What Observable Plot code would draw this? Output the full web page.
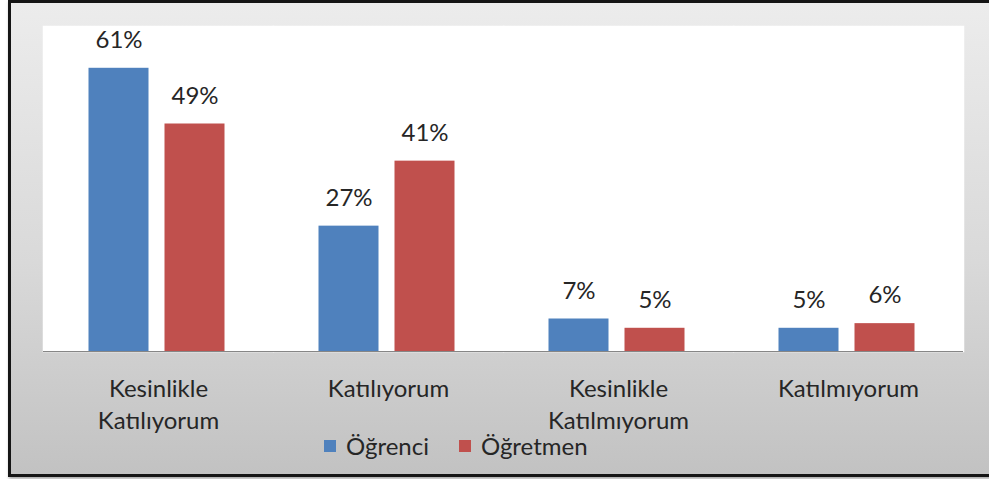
<!DOCTYPE html>
<html>
<head>
<meta charset="utf-8">
<script src="https://cdn.jsdelivr.net/npm/d3@7"></script>
<script src="https://cdn.jsdelivr.net/npm/@observablehq/plot@0.6"></script>
<style>
  html, body { margin: 0; padding: 0; background: #ffffff; width: 989px; height: 479px; overflow: hidden; }
  #frame {
    position: absolute; left: 8px; top: 0px; width: 1000px; height: 471px;
    border-top: 3px solid #151515; border-left: 3px solid #151515; border-bottom: 3px solid #151515;
    background: linear-gradient(to bottom, #ececec 0%, #d9d9d9 55%, #c2c2c2 100%);
    box-shadow: 1px 2px 3px rgba(0,0,0,0.35);
    font-family: Lato, "Open Sans", sans-serif;
  }
  #chart { position: absolute; left: 0; top: 0; }
  #legend {
    position: absolute; left: 313px; top: 431px; display: flex; align-items: center;
    font-size: 24px; line-height: 24px; color: #262626;
  }
  .sw { width: 12px; height: 12px; margin-right: 10px; }
  .item { display: flex; align-items: center; margin-right: 30px; }
</style>
</head>
<body>
<div id="frame">
  <div id="chart"></div>
  <div id="legend"></div>
</div>
<script>
const categories = ["Kesinlikle Katılıyorum", "Katılıyorum", "Kesinlikle Katılmıyorum", "Katılmıyorum"];
const categoryLabels = ["Kesinlikle\nKatılıyorum", "Katılıyorum", "Kesinlikle\nKatılmıyorum", "Katılmıyorum"];
const series = ["Öğrenci", "Öğretmen"];
const ogrenciValues = [61, 27, 7, 5];
const ogretmenValues = [49, 41, 5, 6];
const seriesColors = ["#4F81BD", "#C0504D"];

const data = [];
categories.forEach((c, i) => {
  data.push({cat: c, group: series[0], value: ogrenciValues[i]});
  data.push({cat: c, group: series[1], value: ogretmenValues[i]});
});
const labelRows = categories.map((c, i) => ({cat: c, label: categoryLabels[i]}));

const chart = Plot.plot({
  width: 978,
  height: 432,
  marginLeft: 31,
  marginRight: 25,
  marginTop: 23,
  marginBottom: 84,
  style: {background: "transparent", overflow: "visible", fontFamily: "Lato, 'Open Sans', sans-serif"},
  fx: {domain: categories, padding: 0, axis: null},
  x: {domain: series, paddingInner: 0.208, paddingOuter: 0.6, axis: null},
  y: {domain: [0, 70], axis: null},
  color: {domain: series, range: seriesColors},
  marks: [
    Plot.frame({fill: "white", stroke: "white", strokeWidth: 1.5}),
    Plot.barY(data, {fx: "cat", x: "group", y: "value", fill: "group", dx: -1.5}),
    Plot.ruleY([0], {stroke: "#868686", strokeWidth: 1}),
    Plot.text(data, {fx: "cat", x: "group", y: "value", text: d => d.value + "%", dy: -28, dx: -1.5, fontSize: 24, fill: "#262626"}),
    Plot.text(labelRows, {fx: "cat", text: "label", frameAnchor: "bottom", lineAnchor: "top", dy: 23, lineHeight: 1.33, fontSize: 24, fill: "#262626"})
  ]
});
document.getElementById("chart").appendChild(chart);

const legend = document.getElementById("legend");
series.forEach((s, i) => {
  const item = document.createElement("div");
  item.className = "item";
  const sw = document.createElement("div");
  sw.className = "sw";
  sw.style.background = seriesColors[i];
  const t = document.createElement("span");
  t.textContent = s;
  item.appendChild(sw);
  item.appendChild(t);
  legend.appendChild(item);
});
</script>
</body>
</html>
